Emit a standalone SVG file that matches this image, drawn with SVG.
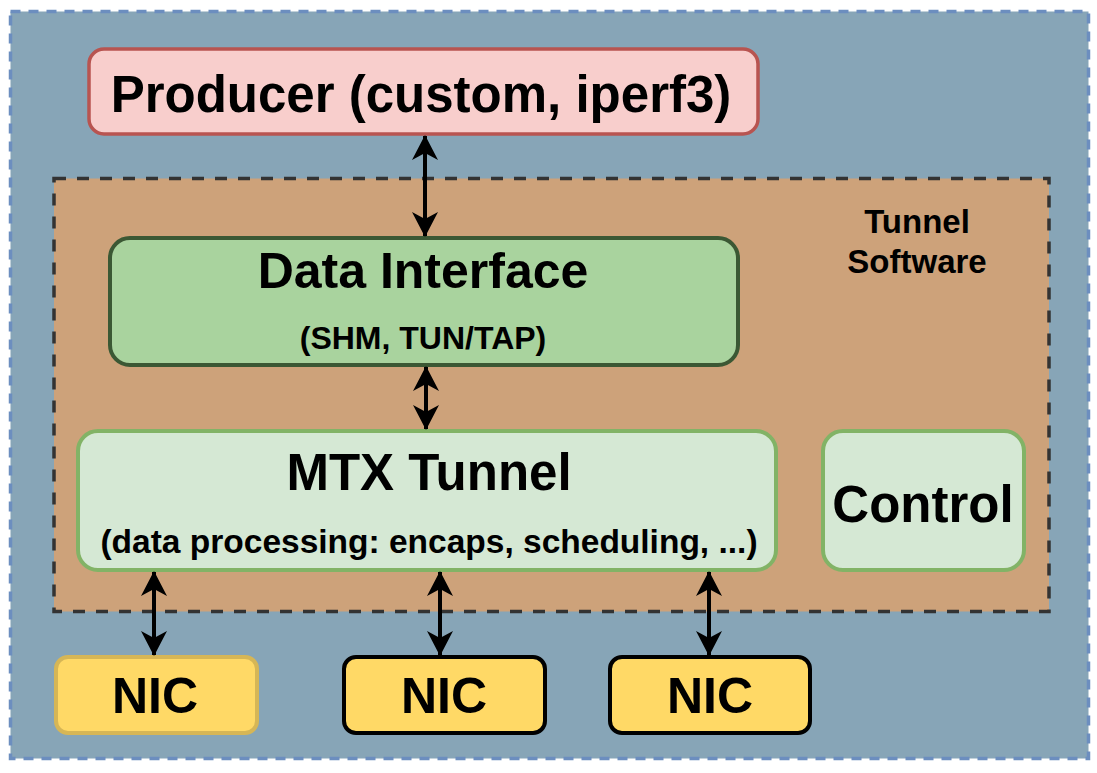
<svg xmlns="http://www.w3.org/2000/svg" width="1097" height="773" viewBox="0 0 1097 773">
<defs>
<marker id="ah" viewBox="0 0 26 26" markerWidth="26" markerHeight="26" refX="24" refY="13" orient="auto-start-reverse" markerUnits="userSpaceOnUse">
<path d="M0,0 L25,13 L0,26 L7,13 Z" fill="#000"/>
</marker>
<style>
text{font-family:"Liberation Sans",Arial,sans-serif;font-weight:bold;fill:#000;text-anchor:middle}
.conn{stroke:#000;stroke-width:4;fill:none;marker-start:url(#ah);marker-end:url(#ah)}
.nic{fill:#ffd966;stroke-width:4}
</style>
</defs>
<rect width="1097" height="773" fill="#fff"/>
<g id="host">
<rect x="10.5" y="11.5" width="1078" height="747" fill="#87a5b7" stroke="#6c8ebf" stroke-width="3.5" stroke-dasharray="10,8"/>
</g>
<g id="producer">
<rect x="89" y="49" width="669" height="85" rx="15" fill="#f8cecc" stroke="#b85450" stroke-width="3.5"/>
<text x="421" y="112" font-size="51">Producer (custom, iperf3)</text>
</g>
<g id="tunnel-software">
<rect x="54" y="178.5" width="995" height="433" fill="#cda27a" stroke="#333" stroke-width="3.5" stroke-dasharray="12,11"/>
<text x="917" y="233" font-size="33">Tunnel</text>
<text x="917" y="273" font-size="33">Software</text>
</g>
<g id="data-interface">
<rect x="110" y="238" width="628" height="127" rx="20" fill="#a9d39e" stroke="#3b5834" stroke-width="4"/>
<text x="423" y="288" font-size="50">Data Interface</text>
<text x="423" y="349" font-size="32">(SHM, TUN/TAP)</text>
</g>
<g id="mtx-tunnel">
<rect x="78" y="431" width="698" height="139" rx="20" fill="#d5e8d4" stroke="#82b366" stroke-width="4"/>
<text x="429" y="490" font-size="51">MTX Tunnel</text>
<text x="429" y="553" font-size="33.5">(data processing: encaps, scheduling, ...)</text>
</g>
<g id="control">
<rect x="823" y="431" width="201" height="139" rx="20" fill="#d5e8d4" stroke="#82b366" stroke-width="4"/>
<text x="923" y="522" font-size="51">Control</text>
</g>
<g id="nic1">
<rect class="nic" x="56" y="657" width="201" height="76" rx="12" stroke="#d6b656"/>
<text x="155" y="713" font-size="50">NIC</text>
</g>
<g id="nic2">
<rect class="nic" x="344" y="657" width="201" height="76" rx="12" stroke="#000"/>
<text x="444" y="713" font-size="50">NIC</text>
</g>
<g id="nic3">
<rect class="nic" x="610" y="657" width="200" height="76" rx="12" stroke="#000"/>
<text x="710" y="713" font-size="50">NIC</text>
</g>
<g id="connectors">
<line class="conn" x1="425" y1="136" x2="425" y2="236"/>
<line class="conn" x1="426" y1="367" x2="426" y2="429"/>
<line class="conn" x1="154" y1="572" x2="154" y2="655"/>
<line class="conn" x1="440" y1="572" x2="440" y2="655"/>
<line class="conn" x1="709" y1="572" x2="709" y2="655"/>
</g>
</svg>
